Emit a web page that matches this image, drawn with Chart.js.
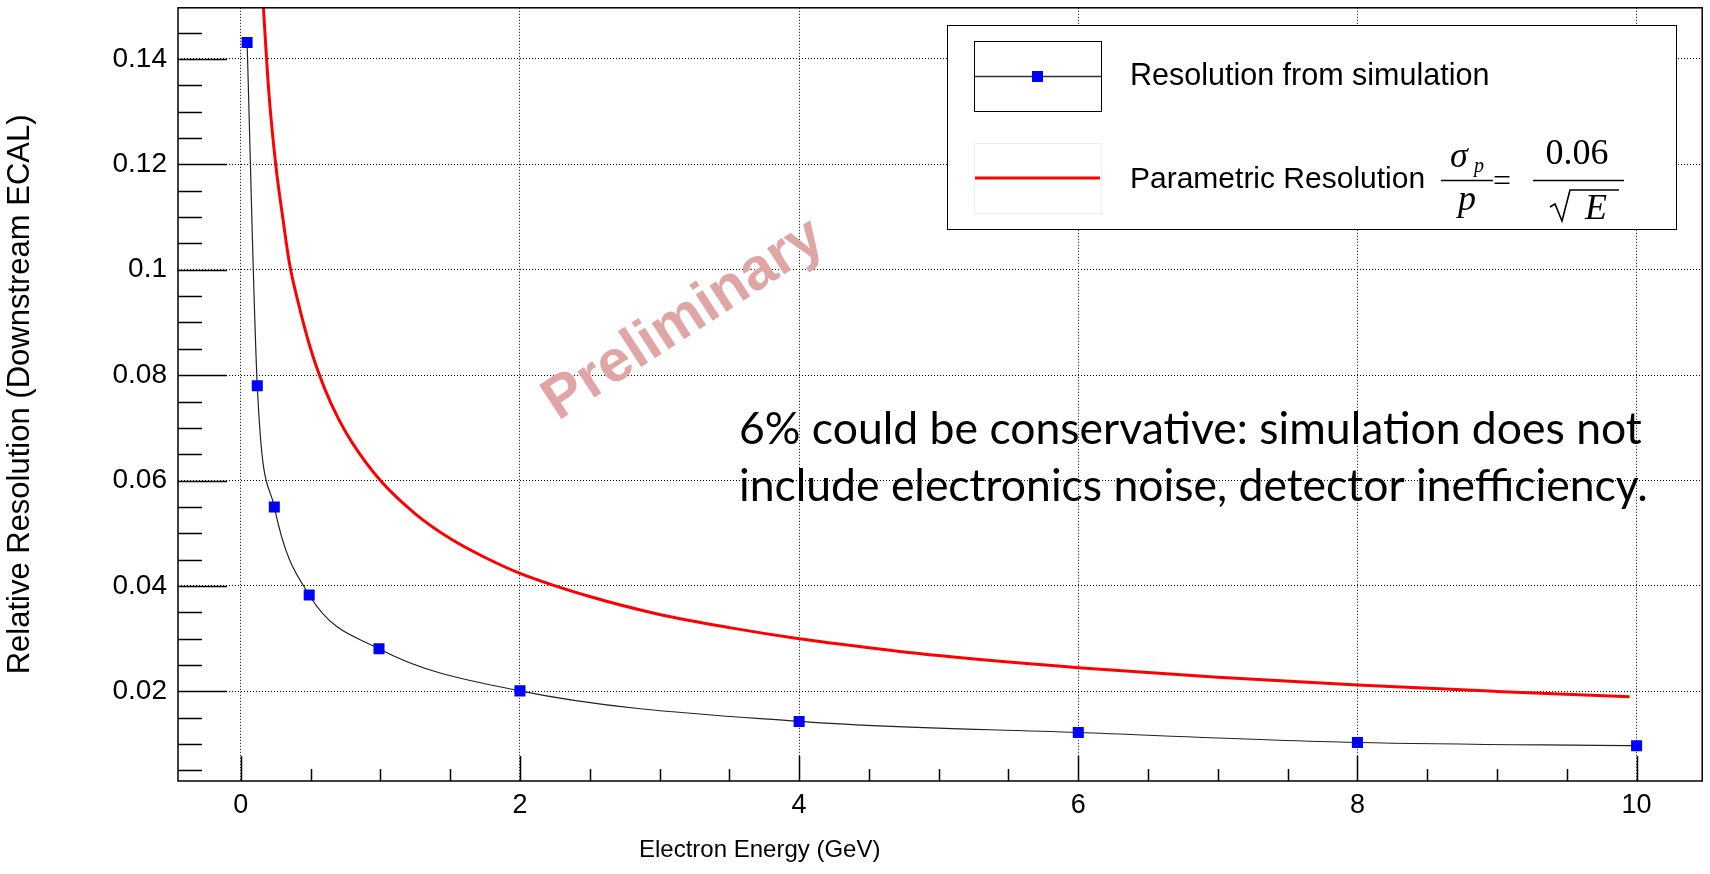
<!DOCTYPE html>
<html>
<head>
<meta charset="utf-8">
<title>ECAL resolution</title>
<script src="https://cdn.jsdelivr.net/npm/chart.js@4.4.1/dist/chart.umd.min.js"></script>
<style>
html, body { margin: 0; padding: 0; background: #fff; }
#wrap { width: 1710px; height: 874px; }
</style>
</head>
<body>
<div id="wrap"><canvas id="resPlot" width="1710" height="874"></canvas></div>
<script>
// simulated points (GeV, relative resolution)
var simEnergy = [0.045, 0.118, 0.24, 0.49, 0.99, 2, 4, 6, 8, 10];
var simRes = [0.1431, 0.078, 0.055, 0.0383, 0.0281, 0.0201, 0.0143, 0.0122, 0.0103, 0.0097];

// red parametric curve
var parEnergy = [0.15, 0.2, 0.25, 0.3, 0.35, 0.4, 0.5, 0.6, 0.7, 0.8, 1.0, 1.25, 1.5, 1.75, 2.0, 2.5, 3.0, 3.5, 4.0, 4.5, 5.0, 6.0, 7.0, 8.0, 9.0, 9.95];
var parRes = [0.155, 0.134, 0.12, 0.11, 0.101, 0.095, 0.085, 0.0775, 0.0717, 0.0671, 0.060, 0.0537, 0.049, 0.0454, 0.0424, 0.038, 0.0346, 0.0321, 0.030, 0.0283, 0.0268, 0.0245, 0.0227, 0.0212, 0.020, 0.019];

var xTicks = [0, 2, 4, 6, 8, 10];
var yTicks = [0.02, 0.04, 0.06, 0.08, 0.1, 0.12, 0.14];
var legendLabels = ["Resolution from simulation", "Parametric Resolution"];
var noteLines = ["6% could be conservative: simulation does not", "include electronics noise, detector inefficiency."];

var sansFont = "'Liberation Sans', Arial, Helvetica, sans-serif";
var serifFont = "'Liberation Serif', 'Times New Roman', serif";

function toPoints(xs, ys) {
    var out = [];
    for (var i = 0; i < xs.length; i++) out.push({x: xs[i], y: ys[i]});
    return out;
}

// ROOT style decorations: frame, inward ticks, legend, notes
var rootDecor = {
    id: 'rootDecor',
    afterDraw: function (chart) {
        var ctx = chart.ctx;
        var a = chart.chartArea;
        var xs = chart.scales.x, ys = chart.scales.y;
        ctx.save();

        // ticks (inward)
        ctx.strokeStyle = '#000';
        ctx.lineWidth = 1.5;
        ctx.beginPath();
        var v, px;
        for (v = 0.5; v < xs.max; v += 0.5) {
            px = Math.round(xs.getPixelForValue(v)) + 0.5;
            var len = (xTicks.indexOf(v) >= 0) ? 25 : 12;
            ctx.moveTo(px, a.bottom);
            ctx.lineTo(px, a.bottom - len);
        }
        px = Math.round(xs.getPixelForValue(0)) + 0.5;
        ctx.moveTo(px, a.bottom);
        ctx.lineTo(px, a.bottom - 25);
        for (var k = 1; k <= 29; k++) {
            v = k * 0.005;
            var py = Math.round(ys.getPixelForValue(v)) + 0.5;
            var major = (k % 4 === 0);
            ctx.moveTo(a.left, py);
            ctx.lineTo(a.left + (major ? 49 : 24), py);
        }
        ctx.stroke();

        // frame
        ctx.lineWidth = 1.5;
        ctx.strokeRect(a.left, a.top, a.right - a.left, a.bottom - a.top);

        // x title
        ctx.fillStyle = '#000';
        ctx.font = '24px ' + sansFont;
        ctx.textAlign = 'left';
        ctx.textBaseline = 'alphabetic';
        ctx.fillText('Electron Energy (GeV)', 639, 857);

        // legend
        ctx.fillStyle = '#fff';
        ctx.fillRect(947, 25, 729, 204);
        ctx.strokeStyle = '#000';
        ctx.lineWidth = 1;
        ctx.strokeRect(947.5, 25.5, 729, 204);
        ctx.strokeRect(974.5, 41.5, 127, 70);
        ctx.strokeStyle = '#333';
        ctx.lineWidth = 1.5;
        ctx.beginPath();
        ctx.moveTo(975, 76.5);
        ctx.lineTo(1101, 76.5);
        ctx.stroke();
        ctx.fillStyle = '#0000ff';
        ctx.fillRect(1032, 71, 11, 11);
        ctx.strokeStyle = '#eeeeee';
        ctx.lineWidth = 1;
        ctx.strokeRect(974.5, 143.5, 127, 70);
        ctx.strokeStyle = '#ff0000';
        ctx.lineWidth = 3;
        ctx.beginPath();
        ctx.moveTo(975, 178);
        ctx.lineTo(1100, 178);
        ctx.stroke();

        ctx.fillStyle = '#000';
        ctx.font = '30.5px ' + sansFont;
        ctx.textBaseline = 'middle';
        ctx.fillText(legendLabels[0], 1130, 77);
        ctx.font = '30px ' + sansFont;
        ctx.fillText(legendLabels[1], 1130, 180);

        // formula  sigma_p / p = 0.06 / sqrt(E)
        ctx.textAlign = 'center';
        ctx.textBaseline = 'alphabetic';
        ctx.font = 'italic 36px ' + serifFont;
        ctx.fillText('\u03c3', 1459, 167);
        ctx.font = 'italic 20px ' + serifFont;
        ctx.fillText('p', 1479, 172);
        ctx.font = 'italic 36px ' + serifFont;
        ctx.fillText('p', 1467, 210);
        ctx.font = '32px ' + serifFont;
        ctx.fillText('=', 1502, 191);
        ctx.font = '36px ' + serifFont;
        ctx.fillText('0.06', 1577, 164);
        ctx.font = 'italic 36px ' + serifFont;
        ctx.fillText('E', 1596, 219);
        ctx.lineWidth = 1.3;
        ctx.strokeStyle = '#000';
        ctx.beginPath();
        ctx.moveTo(1441, 180.5); ctx.lineTo(1493, 180.5);
        ctx.moveTo(1533, 180.5); ctx.lineTo(1624, 180.5);
        ctx.stroke();
        ctx.lineWidth = 1.6;
        ctx.beginPath();
        ctx.moveTo(1550, 207);
        ctx.lineTo(1555, 204);
        ctx.lineTo(1562, 221);
        ctx.lineTo(1570, 190);
        ctx.lineTo(1619, 190);
        ctx.stroke();

        // comment text
        ctx.textAlign = 'left';
        ctx.font = '100px Lato, ' + sansFont;
        var w = ctx.measureText(noteLines[0]).width;
        var size = 100 * 902 / w;
        ctx.font = size.toFixed(1) + 'px Lato, ' + sansFont;
        ctx.fillText(noteLines[0], 739, 444);
        ctx.fillText(noteLines[1], 739, 501);

        // watermark
        ctx.translate(684, 320);
        ctx.rotate(-33 * Math.PI / 180);
        ctx.fillStyle = '#e0a6a6';
        ctx.font = 'bold 59px ' + sansFont;
        ctx.textAlign = 'center';
        ctx.textBaseline = 'middle';
        ctx.fillText('Preliminary', 0, 0);

        ctx.restore();
    }
};

Chart.defaults.font.family = sansFont;
Chart.defaults.color = '#000';

var ctx = document.getElementById('resPlot').getContext('2d');
var chart = new Chart(ctx, {
    type: 'line',
    data: {
        datasets: [
            {
                label: legendLabels[0],
                data: toPoints(simEnergy, simRes),
                borderColor: '#222',
                borderWidth: 1.2,
                cubicInterpolationMode: 'monotone',
                pointStyle: 'rect',
                pointRadius: 7.8,
                pointBackgroundColor: '#0000ff',
                pointBorderWidth: 0,
                fill: false
            },
            {
                label: legendLabels[1],
                data: toPoints(parEnergy, parRes),
                borderColor: '#ff0000',
                borderWidth: 3,
                cubicInterpolationMode: 'monotone',
                pointRadius: 0,
                fill: false
            }
        ]
    },
    options: {
        responsive: false,
        animation: false,
        layout: { padding: { left: 0, right: 1, top: 6, bottom: 0 } },
        plugins: {
            legend: { display: false },
            tooltip: { enabled: false }
        },
        scales: {
            x: {
                type: 'linear',
                min: -0.45,
                max: 10.47,
                afterBuildTicks: function (s) { s.ticks = xTicks.map(function (t) { return {value: t}; }); },
                afterFit: function (s) { s.height = 93; s.paddingLeft = 0; s.paddingRight = 0; },
                grid: { color: '#000', lineWidth: 1, drawTicks: false },
                border: { display: false, dash: [1, 2] },
                ticks: { font: { size: 27 }, padding: 8, maxRotation: 0 }
            },
            y: {
                type: 'linear',
                min: 0.003,
                max: 0.1497,
                afterBuildTicks: function (s) { s.ticks = yTicks.map(function (t) { return {value: t}; }); },
                afterFit: function (s) { s.width = 178; s.paddingTop = 0; s.paddingBottom = 0; },
                grid: { color: '#000', lineWidth: 1, drawTicks: false },
                border: { display: false, dash: [1, 2] },
                ticks: {
                    font: { size: 28 },
                    padding: 11,
                    callback: function (v) { return String(+v.toFixed(3)); }
                },
                title: {
                    display: true,
                    text: 'Relative Resolution (Downstream ECAL)',
                    font: { size: 31 },
                    padding: { top: 2, bottom: 0 }
                }
            }
        }
    },
    plugins: [rootDecor]
});
</script>
</body>
</html>
